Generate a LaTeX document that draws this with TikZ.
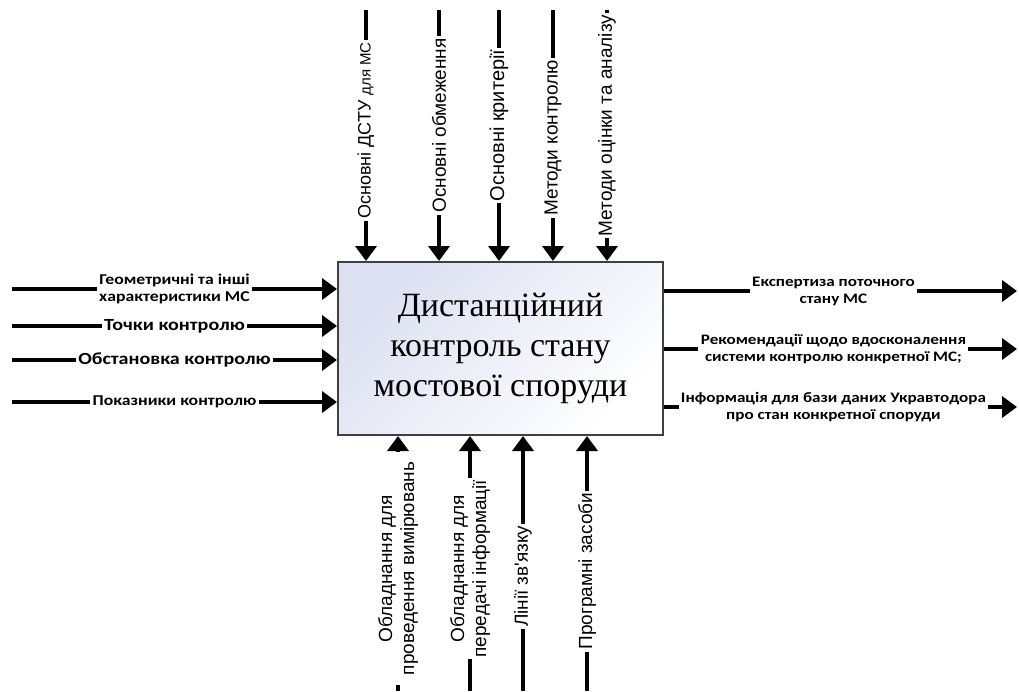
\documentclass[tikz,border=0pt]{standalone}
\usepackage{fontspec}
\setmainfont{Liberation Serif}
\newfontfamily\lblfont{Carlito}
\newfontfamily\vlblfont{Liberation Sans}
\usetikzlibrary{arrows.meta}
\definecolor{boxtint}{RGB}{220,224,241}
\definecolor{boxedge}{RGB}{64,64,64}

\begin{document}
\begin{tikzpicture}[x=1pt,y=-1pt,
  flow/.style={line width=4pt,-{Triangle[length=15pt,width=21pt]}},
  hlbl/.style={fill=white,inner sep=2pt,align=center,xscale=1.18,font=\lblfont\bfseries\fontsize{14.5}{17}\selectfont},
  vlbl/.style={fill=white,inner sep=2pt,align=center,rotate=90,font=\vlblfont\fontsize{19}{22}\selectfont}]
  \useasboundingbox (0,0) rectangle (1019,691);
  % function box
  \node[draw=boxedge, line width=2pt, top color=boxtint, bottom color=white, shading angle=45, minimum width=325pt, minimum height=173pt, align=center, font=\fontsize{34}{40}\selectfont] (box) at (500.5,348.5) {Дистанційний\\контроль стану\\мостової споруди};
  % inputs
  \coordinate (in1) at (12,289);
  \coordinate (in2) at (12,326);
  \coordinate (in3) at (12,360);
  \coordinate (in4) at (12,402);
  \draw[flow] (in1) -- node[hlbl, font=\lblfont\bfseries\fontsize{15}{17.5}\selectfont] {Геометричні та інші\\характеристики МС} (in1 -| box.west);
  \draw[flow] (in2) -- node[hlbl, font=\lblfont\bfseries\fontsize{17}{19}\selectfont] {Точки контролю} (in2 -| box.west);
  \draw[flow] (in3) -- node[hlbl, font=\lblfont\bfseries\fontsize{17}{19}\selectfont] {Обстановка контролю} (in3 -| box.west);
  \draw[flow] (in4) -- node[hlbl, font=\lblfont\bfseries\fontsize{15}{19}\selectfont] {Показники контролю} (in4 -| box.west);
  % outputs
  \coordinate (out1) at (1017,291);
  \coordinate (out2) at (1017,349);
  \coordinate (out3) at (1017,407);
  \draw[flow] (out1 -| box.east) -- node[hlbl, pos=0.48] {Експертиза поточного\\стану МС} (out1);
  \draw[flow] (out2 -| box.east) -- node[hlbl, pos=0.48] {Рекомендації щодо вдосконалення\\системи контролю конкретної МС;} (out2);
  \draw[flow] (out3 -| box.east) -- node[hlbl, pos=0.48] {Інформація для бази даних Укравтодора\\про стан конкретної споруди} (out3);
  % controls
  \coordinate (ctl1) at (366,10);
  \coordinate (ctl2) at (439,10);
  \coordinate (ctl3) at (499,10);
  \coordinate (ctl4) at (553,10);
  \coordinate (ctl5) at (607,10);
  \draw[flow] (ctl1) -- node[vlbl, pos=0.48, font=\vlblfont\fontsize{18}{22}\selectfont] {Основні ДСТУ {\fontsize{15}{18}\selectfont для МС}} (ctl1 |- box.north);
  \draw[flow] (ctl2) -- node[vlbl, pos=0.46] {Основні обмеження} (ctl2 |- box.north);
  \draw[flow] (ctl3) -- node[vlbl, pos=0.46, font=\vlblfont\fontsize{20}{24}\selectfont] {Основні критерії} (ctl3 |- box.north);
  \draw[flow] (ctl4) -- node[vlbl, pos=0.51] {Методи контролю} (ctl4 |- box.north);
  \draw[flow] (ctl5) -- node[vlbl, pos=0.46] {Методи оцінки та аналізу} (ctl5 |- box.north);
  % mechanisms
  \coordinate (mech1) at (398,691);
  \coordinate (mech2) at (470,691);
  \coordinate (mech3) at (523,691);
  \coordinate (mech4) at (587,691);
  \draw[flow] (mech1) -- node[vlbl, pos=0.48, inner xsep=10pt] {Обладнання для\\проведення вимірювань} (mech1 |- box.south);
  \draw[flow] (mech2) -- node[vlbl, pos=0.48] {Обладнання для\\передачі інформації} (mech2 |- box.south);
  \draw[flow] (mech3) -- node[vlbl, pos=0.45] {Лінії зв'язку} (mech3 |- box.south);
  \draw[flow] (mech4) -- node[vlbl, pos=0.47] {Програмні засоби} (mech4 |- box.south);
\end{tikzpicture}
\end{document}
